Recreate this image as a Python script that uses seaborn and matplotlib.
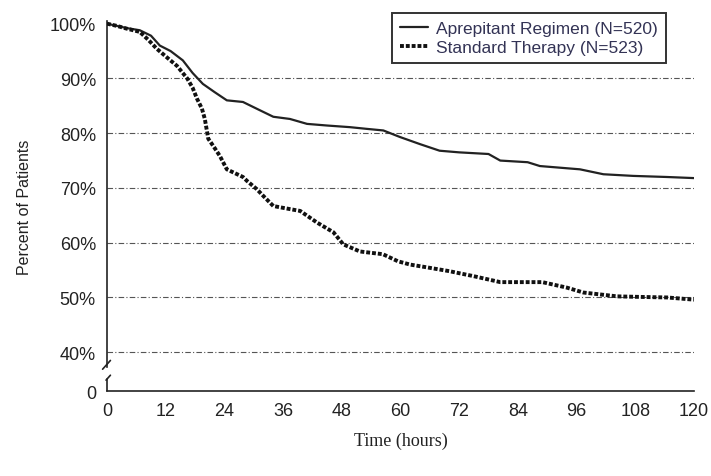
import numpy as np
import pandas as pd
import matplotlib
matplotlib.use("Agg")
import matplotlib.pyplot as plt
import seaborn as sns

# Kaplan-Meier style curves (hours, percent of patients)
aprep_t = [0, 2, 4, 6.7, 9, 10.8, 13, 15.5, 17.5, 19.6, 22, 24.5, 27.8, 31, 34, 37.4,
           40.9, 45, 49.7, 53, 56.5, 59.9, 64, 68, 72, 78, 80.4, 86, 88.5, 96.7,
           101.5, 107.6, 114.5, 120]
aprep_pct = [100, 99.6, 99.2, 98.8, 97.8, 96, 95, 93.3, 91, 89, 87.5, 86, 85.7, 84.3, 83, 82.6,
             81.7, 81.4, 81.1, 80.8, 80.5, 79.3, 78, 76.8, 76.5, 76.2, 75, 74.7, 74, 73.4,
             72.5, 72.2, 72, 71.8]

std_t = [0, 2, 4, 6.7, 8.5, 10.2, 12.3, 14.3, 16.4, 17.5, 18.4, 19.4, 20, 20.7, 22, 23.1,
         24.5, 25.2, 27.8, 28.6, 30.6, 32, 34, 37, 39.5, 42.9, 46.3, 48.3, 51.7, 56.4,
         59.5, 62, 65.4, 70, 74.9, 80.4, 89, 94, 97.4, 104.3, 109, 114.5, 120]
std_pct = [100, 99.6, 99.1, 98.5, 97, 95.4, 93.8, 92.3, 90, 88.3, 86.3, 84.5, 82.6, 79, 77.3, 75.8,
           73.4, 73.1, 72, 71.3, 69.8, 68.5, 66.7, 66.2, 65.8, 63.7, 61.9, 59.7, 58.4, 57.9,
           56.6, 56, 55.5, 54.8, 53.9, 52.8, 52.8, 51.8, 50.9, 50.2, 50.1, 50, 49.6]

series_names = ["Aprepitant Regimen (N=520)", "Standard Therapy (N=523)"]
grid_levels = [40, 50, 60, 70, 80, 90]
ytick_vals = [32.9, 40, 50, 60, 70, 80, 90, 100]
ytick_labels = ["0", "40%", "50%", "60%", "70%", "80%", "90%", "100%"]
xtick_vals = list(range(0, 121, 12))

df = pd.concat([
    pd.DataFrame({"hours": aprep_t, "pct": aprep_pct, "group": series_names[0]}),
    pd.DataFrame({"hours": std_t, "pct": std_pct, "group": series_names[1]}),
])

sns.set_style("white")
plt.rcParams["font.family"] = ["Liberation Sans", "DejaVu Sans"]

fig = plt.figure(figsize=(7.11, 4.77), dpi=100)
ax = fig.add_axes([0.1505, 0.178, 0.8255, 0.776])

for lv in grid_levels:
    ax.axhline(lv, color="#555555", lw=0.8, ls=(0, (5, 2, 1, 2)), zorder=1)

sns.lineplot(data=df[df.group == series_names[0]], x="hours", y="pct", ax=ax,
             color="#222222", lw=1.6, label=series_names[0],
             estimator=None, sort=False, zorder=3)
sns.lineplot(data=df[df.group == series_names[1]], x="hours", y="pct", ax=ax,
             color="#111111", lw=2.8, ls=(0, (1, 0.5)),
             label=series_names[1], estimator=None, sort=False, zorder=3)

ax.set_xlim(0, 120)
ax.set_ylim(32.9, 100.5)
ax.set_xticks(xtick_vals)
ax.set_xticks(range(6, 120, 12), minor=True)
ax.set_yticks(ytick_vals)
ax.set_yticklabels(ytick_labels)
ax.set_yticks([45, 55, 65, 75, 85, 95], minor=True)
ax.tick_params(axis="both", which="both", direction="in", colors="#222222",
               labelcolor="#222222", labelsize=13)
ax.tick_params(which="major", length=5, width=1)
ax.tick_params(which="minor", length=4, width=1)
ax.tick_params(axis="x", pad=8)
ax.tick_params(axis="y", pad=8)

for s in ["top", "right"]:
    ax.spines[s].set_visible(False)
ax.spines["bottom"].set_color("#222222")
ax.spines["bottom"].set_linewidth(1.2)
ax.spines["left"].set_color("#222222")
ax.spines["left"].set_linewidth(1.2)
ax.spines["left"].set_bounds(37.3, 100.5)

# lower piece of the broken axis and the break marks
ax.plot([0, 0], [32.9, 35.2], color="#222222", lw=1.2, clip_on=False, zorder=4)
ax.plot([-0.9, 0.7], [36.9, 38.5], color="#222222", lw=1.2, clip_on=False, zorder=4)
ax.plot([-0.2, 0.7], [34.9, 35.8], color="#222222", lw=1.2, clip_on=False, zorder=4)

ax.set_xlabel("Time (hours)", family=["Liberation Serif", "DejaVu Serif"],
              fontsize=13, labelpad=9, color="#222222")
ax.set_ylabel("Percent of Patients", fontsize=11.5, labelpad=13, color="#222222")

leg = ax.legend(loc="upper right", bbox_to_anchor=(0.967, 1.045), frameon=True,
                fancybox=False, edgecolor="black", fontsize=12.5, handlelength=1.6,
                handletextpad=0.5, borderpad=0.45, labelspacing=0.25)
leg.get_frame().set_linewidth(1.4)
for t in leg.get_texts():
    t.set_color("#333355")

fig.savefig("out.png", dpi=100)
